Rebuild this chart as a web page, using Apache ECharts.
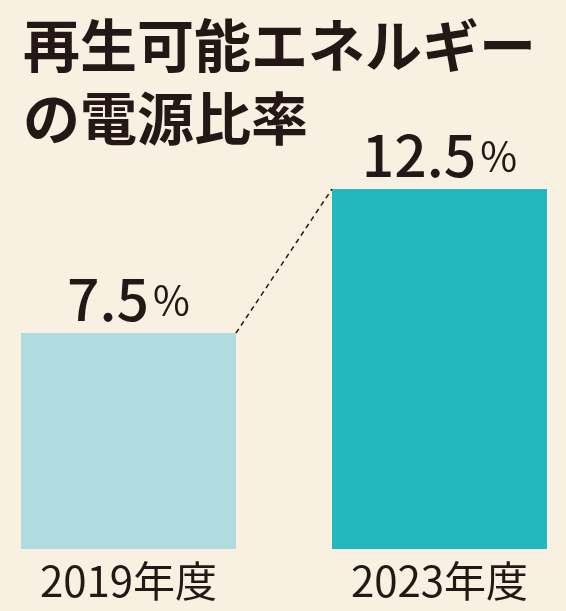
<!DOCTYPE html>
<html lang="ja">
<head>
    <meta charset="UTF-8">
    <title>再生可能エネルギーの電源比率</title>
    <script src="https://cdn.jsdelivr.net/npm/echarts@6/dist/echarts.min.js"></script>
    <style>
        *{
            margin: 0;
            padding: 0;
        }
        body{
            background: #f8f1e1;
            overflow: hidden;
        }
        .container{
            width: 566px;
            height: 611px;
        }
    </style>
</head>
<body>
<div class="container"></div>
<script>
    // data
    let years = ['2019年度', '2023年度'];
    let ratios = [7.5, 12.5];
    let barColors = ['#b0dcdf', '#23b8bd'];

    const INK = '#231815';
    const FONT = '"Noto Sans CJK JP", "Noto Sans", sans-serif';
    const BAR_W = 215;

    let mycharts = echarts.init(document.querySelector('.container'));

    let options = {
        backgroundColor: '#f8f1e1',
        title: {
            text: '再生可能エネルギー\nの電源比率',
            left: 18,
            top: 4,
            textStyle: {
                fontFamily: FONT,
                fontSize: 57,
                fontWeight: 'bold',
                lineHeight: 73,
                color: INK
            }
        },
        grid: {
            left: 128.5,
            right: 126.5,
            top: 189,
            bottom: 62
        },
        xAxis: {
            type: 'category',
            data: years,
            boundaryGap: false,
            axisLine: {show: false},
            axisTick: {show: false},
            axisLabel: {
                margin: 11,
                fontFamily: FONT,
                fontSize: 42,
                color: INK
            }
        },
        yAxis: {
            type: 'value',
            min: 0,
            max: 12.5,
            show: false
        },
        series: [
            {
                type: 'bar',
                barWidth: BAR_W,
                data: ratios.map((v, i) => ({
                    value: v,
                    itemStyle: {color: barColors[i]}
                })),
                label: {
                    show: true,
                    position: 'top',
                    distance: 5,
                    formatter: p => '{n|' + p.value + '}{p|%}',
                    rich: {
                        n: {
                            fontFamily: FONT,
                            fontSize: 57,
                            fontWeight: 500,
                            lineHeight: 57,
                            color: INK
                        },
                        p: {
                            fontFamily: FONT,
                            fontSize: 40,
                            fontWeight: 'normal',
                            lineHeight: 57,
                            color: INK,
                            padding: [0, 0, 0, 4]
                        }
                    }
                }
            },
            {
                // dashed connector between bar tops
                type: 'custom',
                data: ratios.map((v, i) => [i, v]),
                z: 3,
                renderItem: function (params, api) {
                    let i = params.dataIndex;
                    if (i === 0) return;
                    let from = api.coord([i - 1, ratios[i - 1]]);
                    let to = api.coord([i, api.value(1)]);
                    return {
                        type: 'line',
                        shape: {
                            x1: from[0] + BAR_W / 2,
                            y1: from[1],
                            x2: to[0] - BAR_W / 2,
                            y2: to[1]
                        },
                        style: {
                            stroke: INK,
                            lineWidth: 1.5,
                            lineDash: [5, 4]
                        }
                    };
                }
            }
        ]
    };

    mycharts.setOption(options);
</script>
</body>
</html>
